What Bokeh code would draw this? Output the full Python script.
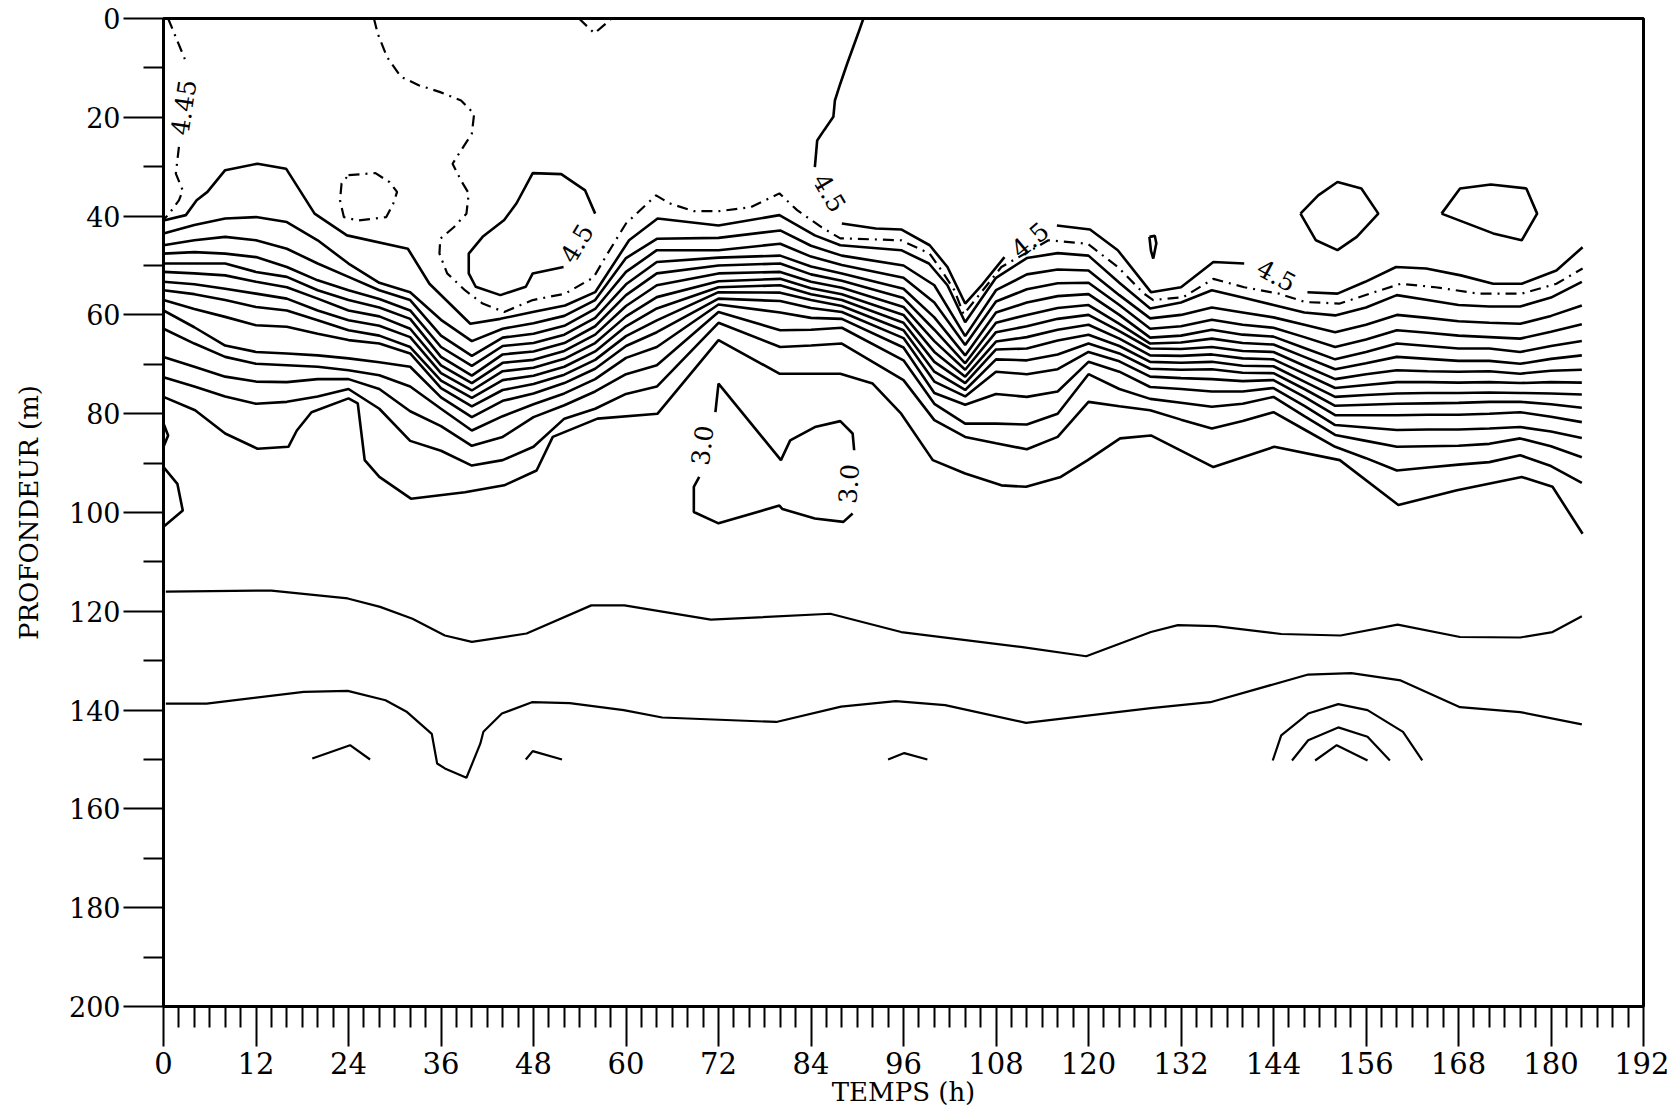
from bokeh.plotting import figure
from bokeh.models import Range1d, FixedTicker, ColumnDataSource
from bokeh.embed import file_html
from bokeh.resources import INLINE
from bokeh.core.properties import value

# ---------------- axes ----------------
x_major = list(range(0, 193, 12))
x_minor = [t for t in range(0, 193, 2) if t % 12 != 0]
y_major = list(range(0, 201, 20))
y_minor = list(range(10, 200, 20))

# ---------------- thermocline band (common time stations, depth in m) ----------------
band_t = [0, 4, 8, 12, 16, 20, 24, 28, 32, 36, 40, 44, 48, 52, 56, 60, 64, 72, 80, 84, 88, 96, 100,
          104, 108, 112, 116, 120, 124, 128, 132, 136, 140, 144, 148, 152, 156, 160, 164, 168, 172,
          176, 180, 184]
band_L02 = [43.5, 41.8, 40.5, 40.2, 41.2, 44.9, 49.6, 53.5, 55.4, 61.0, 65.3, 62.8, 61.7, 60.2, 57.0, 48.5, 44.6, 44.4, 42.9, 46.0, 48.0, 50.0, 54.0,
            64.3, 55.0, 51.8, 50.8, 51.0, 56.0, 60.7, 60.0, 58.5, 59.5, 60.5, 62.0, 63.5, 62.0, 60.0, 60.6, 61.3, 61.6, 61.8, 60.2, 58.1]
band_L03 = [45.9, 44.9, 44.2, 44.9, 46.6, 49.6, 52.3, 55.0, 57.0, 64.2, 68.3, 64.6, 63.8, 62.2, 58.8, 51.3, 46.9, 46.9, 45.6, 48.2, 49.9, 52.5, 57.5,
            66.1, 57.3, 54.8, 53.6, 53.5, 58.0, 62.8, 62.3, 61.0, 62.0, 62.6, 64.5, 66.5, 65.0, 63.1, 63.6, 64.2, 64.5, 64.8, 63.4, 61.9]
band_L04 = [47.6, 47.3, 47.6, 48.3, 50.3, 53.0, 55.0, 56.8, 59.1, 66.5, 70.3, 66.3, 65.7, 64.0, 60.6, 53.8, 49.3, 48.4, 48.0, 50.2, 51.6, 54.7, 60.5,
            68.2, 59.5, 57.5, 56.2, 55.8, 60.0, 64.6, 64.2, 63.0, 64.0, 64.4, 66.7, 69.0, 67.5, 65.8, 66.3, 66.8, 66.8, 67.5, 66.3, 65.3]
band_L05 = [49.6, 49.6, 49.6, 51.3, 52.3, 55.0, 57.0, 58.5, 60.8, 68.5, 72.3, 68.0, 67.4, 65.7, 62.3, 56.0, 51.6, 50.0, 49.6, 51.8, 53.1, 56.6, 63.0,
            69.8, 61.6, 60.0, 58.6, 58.0, 61.8, 65.8, 65.6, 64.8, 65.7, 66.0, 68.5, 71.0, 69.8, 68.5, 68.9, 69.3, 69.3, 69.9, 68.9, 68.2]
band_L06 = [51.3, 51.6, 52.0, 53.3, 54.4, 56.7, 59.1, 60.3, 62.8, 70.2, 73.8, 69.7, 69.1, 67.3, 64.0, 58.2, 54.0, 51.6, 51.3, 53.3, 54.5, 58.4, 65.3,
            71.1, 63.5, 62.3, 60.8, 60.0, 63.3, 66.8, 66.9, 66.5, 67.3, 67.5, 70.3, 73.0, 72.0, 71.2, 71.4, 71.5, 71.4, 71.9, 71.3, 71.1]
band_L07 = [53.3, 53.8, 54.7, 55.7, 56.7, 59.1, 61.1, 62.2, 64.5, 71.8, 75.3, 71.4, 70.7, 68.9, 65.7, 60.3, 56.4, 53.2, 52.7, 54.6, 55.8, 60.0, 67.5,
            72.5, 65.4, 64.5, 63.0, 62.0, 64.8, 68.2, 68.3, 68.0, 68.8, 69.0, 71.9, 74.8, 74.2, 73.6, 73.6, 73.7, 73.6, 73.8, 73.6, 73.7]
band_L08 = [55.0, 55.8, 57.0, 58.4, 59.1, 61.1, 63.1, 64.2, 66.5, 73.3, 76.8, 73.2, 72.3, 70.5, 67.4, 62.3, 58.7, 54.4, 54.0, 55.8, 57.0, 61.6, 69.5,
            73.8, 67.0, 66.8, 65.2, 64.0, 66.3, 69.5, 69.7, 69.5, 70.3, 70.4, 73.5, 76.6, 76.2, 75.9, 75.8, 75.8, 75.7, 75.8, 75.9, 76.1]
band_L09 = [57.0, 58.8, 60.4, 62.1, 62.4, 63.8, 65.1, 65.8, 67.8, 74.8, 78.5, 75.2, 74.0, 72.1, 69.1, 64.3, 61.1, 55.4, 55.5, 57.0, 58.2, 63.1, 71.5,
            75.2, 69.0, 69.2, 68.0, 65.8, 67.8, 70.9, 71.1, 71.0, 71.7, 71.8, 75.0, 78.4, 78.2, 78.0, 77.9, 77.8, 77.6, 77.6, 78.1, 78.8]
band_L10 = [59.1, 62.5, 66.2, 67.5, 67.8, 68.2, 68.8, 69.6, 70.5, 76.7, 80.7, 77.4, 75.9, 73.8, 70.9, 66.3, 63.5, 56.7, 57.2, 58.6, 59.4, 64.7, 73.5,
            76.5, 71.5, 72.0, 71.0, 67.5, 69.4, 72.5, 72.8, 73.0, 73.4, 73.2, 76.6, 80.3, 80.3, 80.3, 80.2, 80.2, 80.0, 79.7, 80.6, 81.7]
band_L11 = [62.8, 65.8, 68.5, 69.9, 70.2, 70.5, 71.2, 72.2, 74.5, 79.0, 83.4, 80.5, 78.1, 75.9, 73.0, 68.7, 66.5, 57.9, 59.5, 60.6, 60.8, 66.6, 75.8,
            78.2, 76.0, 76.6, 75.5, 69.5, 71.5, 74.6, 75.0, 75.5, 75.5, 74.8, 78.4, 82.3, 82.8, 83.3, 83.2, 83.2, 83.0, 82.7, 83.6, 84.9]
band_L12 = [68.5, 70.5, 72.5, 73.5, 73.6, 73.0, 73.0, 75.0, 79.5, 82.5, 86.5, 84.7, 80.7, 78.3, 75.5, 72.0, 70.2, 59.4, 63.1, 63.0, 62.6, 69.2, 78.0,
            82.0, 82.0, 82.2, 80.0, 72.0, 75.0, 77.0, 77.8, 78.6, 78.0, 76.6, 80.5, 84.3, 85.5, 86.7, 86.6, 86.5, 86.1, 85.0, 86.6, 88.8]
band_L13 = [72.6, 74.5, 76.5, 78.0, 77.6, 76.5, 75.0, 79.0, 85.5, 87.5, 90.5, 89.4, 86.7, 81.0, 79.0, 76.0, 74.5, 61.6, 66.5, 66.2, 65.8, 73.2, 81.3,
            84.7, 86.0, 87.2, 84.7, 77.6, 78.5, 79.3, 81.2, 83.0, 81.5, 79.7, 83.2, 86.7, 89.0, 91.5, 90.9, 90.3, 89.8, 88.4, 90.6, 94.0]

# ---------------- individually traced contours (time h, depth m) ----------------
top_t = [0, 2.9, 4.3, 5.7, 8.0, 12.2, 15.9, 19.6, 23.8, 31.7, 34.5, 39.8, 43.7, 47.9, 52.1, 56.0, 60.4, 64.1,
         72.0, 79.9, 84.5, 87.8, 95.7, 99.3, 101.7, 104.0, 108, 112, 116, 120, 124, 128, 132, 136, 140, 144,
         148, 152, 156, 160, 164, 168, 172, 176, 180, 184]
top_z = [40.9, 39.8, 36.8, 35.1, 30.7, 29.4, 30.4, 39.5, 43.9, 46.6, 53.7, 61.8, 60.8, 59.4, 58.1, 55.4, 44.9, 40.5,
         41.9, 39.8, 43.9, 45.9, 46.9, 49.6, 54.0, 61.5, 52.5, 48.5, 47.5, 48.0, 53.5, 58.7, 57.5, 55.0, 56.5, 58.0,
         59.5, 60.1, 58.5, 56.0, 57.0, 58.0, 58.3, 58.3, 56.5, 53.3]

low_t = [0, 4.1, 8.0, 12.2, 16.2, 17.3, 19.2, 24.0, 25.2, 26.1, 28.0, 32.1, 39.1, 44.2, 48.4, 50.5, 56.3, 64.1,
         72.0, 79.9, 87.8, 92.0, 95.7, 99.8, 104.0, 108.7, 111.9, 116.4, 119.9, 124.1, 128.1, 136.2, 144.1,
         152.6, 160.2, 167.8, 176.2, 180.2, 184.1]
low_z = [76.6, 79.3, 84.0, 87.1, 86.7, 83.4, 79.7, 76.9, 77.9, 89.4, 92.8, 97.2, 95.9, 94.5, 91.5, 84.7, 81.0, 80.0,
         65.1, 71.9, 71.9, 73.9, 80.0, 89.4, 92.1, 94.5, 94.8, 92.8, 89.4, 85.0, 84.4, 90.8, 86.7,
         89.4, 98.5, 95.5, 92.8, 94.8, 104.3]

# 4.45 contour (dash-dot)
dd_corner_a_t = [0.6, 3.0]
dd_corner_a_z = [0.0, 9.1]
dd_corner_b_t = [2.0, 1.6, 2.5, 2.0, 0.6, 0.1]
dd_corner_b_z = [26.0, 31.4, 34.8, 36.8, 39.8, 40.5]
dd_main_t = [27.3, 27.8, 29.0, 30.8, 33.1, 35.9, 38.6, 40.3, 40.0, 38.6, 37.5, 38.6, 39.6, 39.3, 37.7, 35.9, 35.8,
             36.8, 39.1, 41.4, 44.2, 47.9, 52.1, 55.8, 57.6, 60.0, 63.9, 65.6, 68.8, 72.1, 76.2, 79.9, 82.2, 85.4,
             87.8, 95.7, 99.4, 101.2, 102.6, 103.8, 108.7, 114.8, 119.9, 123.8, 127.2, 128.4, 132.3, 136.2, 140.2,
             144.7, 148.1, 152.6, 156.5, 160.5, 165.0, 170.6, 176.2, 180.7, 184.1]
dd_main_z = [0.0, 3.1, 7.8, 11.8, 13.5, 14.9, 16.6, 19.3, 23.3, 26.7, 29.4, 32.8, 35.4, 39.5, 42.2, 44.6, 47.6,
             51.6, 55.0, 57.7, 59.4, 57.0, 55.7, 52.4, 47.6, 41.5, 35.8, 37.4, 39.0, 39.0, 38.2, 35.4, 38.8, 42.3,
             44.5, 44.9, 47.6, 51.6, 55.0, 59.9, 50.3, 44.9, 45.6, 50.3, 55.7, 57.0, 56.4, 52.7, 54.4,
             55.7, 57.4, 57.7, 55.7, 53.7, 54.4, 55.7, 55.7, 53.7, 50.6]
dd_loop_t = [24.0, 27.5, 29.3, 30.3, 29.8, 28.9, 25.2, 23.4, 22.9, 23.1, 24.0]
dd_loop_z = [31.7, 31.3, 33.1, 35.1, 37.5, 40.2, 40.9, 40.2, 36.8, 33.4, 31.7]
dd_top_t = [53.9, 55.9, 58.0]
dd_top_z = [0.0, 3.0, 0.2]

# 4.5 contour (solid)
c45_a_t = [90.8, 90.1, 88.7, 87.8, 87.1, 86.9, 85.7, 84.8, 84.5]
c45_a_z = [0.0, 3.1, 9.1, 13.2, 16.6, 19.9, 22.6, 24.7, 30.1]
c45_b_t = [88.0, 92.4, 95.7, 99.4, 101.7, 104.0, 106.3, 109.1]
c45_b_z = [41.5, 42.5, 42.7, 45.9, 50.3, 57.7, 53.7, 48.3]
c45_c_t = [115.9, 120.2, 123.8, 128.1, 132.0, 136.2, 140.2]
c45_c_z = [41.9, 42.7, 46.9, 55.4, 54.4, 49.3, 49.6]
c45_d_t = [148.4, 152.3, 155.9, 159.9, 163.8, 168.3, 172.5, 176.2, 180.7, 184.1]
c45_d_z = [55.4, 55.7, 53.3, 50.3, 50.6, 52.0, 53.7, 53.7, 51.0, 46.3]
c45_loop_t = [51.9, 47.9, 47.0, 43.7, 40.5, 39.6, 39.6, 41.4, 44.2, 45.8, 47.9, 51.6, 54.7, 56.0]
c45_loop_z = [50.3, 51.6, 54.3, 56.0, 54.3, 51.6, 47.6, 44.2, 40.8, 37.4, 31.3, 31.5, 34.8, 39.5]
sliver_t = [127.9, 128.6, 128.8, 128.4, 128.1, 127.9]
sliver_z = [44.2, 44.0, 45.5, 48.6, 47.0, 44.2]
blob1_t = [147.5, 149.8, 152.3, 155.4, 157.6, 154.8, 152.3, 149.5, 147.5]
blob1_z = [39.5, 35.8, 33.1, 34.4, 39.5, 44.2, 46.9, 44.9, 39.5]
blob2_t = [165.8, 168.2, 172.2, 176.8, 178.2, 176.2, 172.5, 165.8]
blob2_z = [39.5, 34.4, 33.6, 34.4, 39.5, 44.9, 43.5, 39.5]

# 3.0 closed contour (two pieces split by labels)
c30_a_t = [71.6, 72.0, 80.1, 81.3, 84.5, 87.8, 89.4, 89.6]
c30_a_z = [79.7, 73.9, 89.4, 85.4, 82.7, 81.5, 84.0, 87.4]
c30_b_t = [89.4, 88.2, 84.5, 80.3, 79.9, 72.0, 68.8, 68.8, 69.5]
c30_b_z = [100.2, 101.9, 101.2, 99.3, 98.6, 102.2, 99.9, 94.8, 92.8]

# small contours touching the left edge
edge_bump_t = [0.0, 0.6, 0.0]
edge_bump_z = [82.0, 84.4, 86.7]
edge_wedge_t = [0.0, 1.8, 2.5, 0.0]
edge_wedge_z = [90.8, 94.2, 99.6, 102.9]

# deep contours
deep1_t = [0.3, 14.0, 23.9, 28.1, 32.3, 36.5, 40.0, 47.1, 55.5, 59.8, 71.0, 86.5, 95.7, 111.2, 119.7, 128.1,
           131.6, 136.5, 145.0, 152.7, 160.1, 168.2, 176.0, 180.2, 184.0]
deep1_z = [116.0, 115.8, 117.4, 119.1, 121.5, 124.9, 126.2, 124.5, 118.8, 118.8, 121.7, 120.5, 124.2, 127.2, 129.1,
           124.2, 122.8, 123.0, 124.6, 124.9, 122.7, 125.2, 125.3, 124.2, 121.0]
deep2_t = [0.3, 5.6, 18.2, 23.9, 28.8, 31.6, 34.8, 35.5, 36.5, 39.3, 41.1, 41.5, 43.9, 47.8, 52.7, 59.7, 64.7,
           79.5, 87.9, 95.0, 101.4, 111.9, 128.1, 135.8, 148.5, 154.1, 160.5, 168.2, 176.0, 184.0]
deep2_z = [138.7, 138.7, 136.3, 136.1, 138.0, 140.4, 144.8, 150.8, 151.8, 153.7, 146.8, 144.4, 140.7, 138.4,
           138.6, 140.0, 141.5, 142.4, 139.3, 138.2, 139.0, 142.6, 139.6, 138.4, 132.8, 132.5, 134.0, 139.4,
           140.4, 142.9]
cap1_t = [19.3, 24.2, 26.8]
cap1_z = [149.8, 147.1, 150.0]
cap2_t = [47.0, 47.9, 51.7]
cap2_z = [150.0, 148.3, 150.0]
cap3_t = [94.0, 96.1, 99.1]
cap3_z = [150.0, 148.7, 150.0]
arch_outer_t = [143.9, 145.0, 148.5, 152.4, 156.2, 160.8, 163.3]
arch_outer_z = [150.2, 145.1, 140.7, 138.8, 140.0, 144.4, 150.2]
arch_mid_t = [146.4, 148.5, 152.4, 156.2, 159.1]
arch_mid_z = [150.2, 146.1, 143.5, 145.4, 150.2]
arch_in_t = [149.4, 152.2, 156.2]
arch_in_z = [150.2, 147.1, 150.2]

# contour labels
lab_text = ["4.45", "4.5", "4.5", "4.5", "4.5", "3.0", "3.0"]
lab_t = [2.6, 53.6, 86.4, 112.4, 144.4, 69.9, 88.9]
lab_z = [18.0, 45.5, 35.3, 44.8, 52.0, 86.4, 94.2]
lab_angle = [1.42, 1.03, -1.04, 0.70, -0.50, 1.45, 1.50]

# ---------------- figure ----------------
FONT = "DejaVu Serif"
p = figure(frame_width=1480, frame_height=988, output_backend="svg", toolbar_location=None,
           x_range=Range1d(0, 192), y_range=Range1d(200, 0),
           min_border_left=163, min_border_top=18, min_border_right=26, min_border_bottom=10,
           background_fill_color="white", border_fill_color="white")
p.grid.visible = False
p.outline_line_color = "black"
p.outline_line_width = 3

p.xaxis.ticker = FixedTicker(ticks=x_major, minor_ticks=x_minor)
p.yaxis.ticker = FixedTicker(ticks=y_major, minor_ticks=y_minor)
for ax in (p.xaxis[0], p.yaxis[0]):
    ax.axis_line_width = 3
    ax.axis_line_color = "black"
    ax.major_tick_in = 0
    ax.minor_tick_in = 0
    ax.major_tick_line_width = 2
    ax.minor_tick_line_width = 2
    ax.major_tick_line_color = "black"
    ax.minor_tick_line_color = "black"
    ax.major_label_text_font = FONT
    ax.major_label_text_color = "black"
    ax.axis_label_text_font = FONT
    ax.axis_label_text_font_style = "normal"
    ax.axis_label_text_color = "black"
    ax.axis_label_text_font_size = "26px"

p.xaxis.major_tick_out = 40
p.xaxis.minor_tick_out = 21
p.xaxis.major_label_text_font_size = "29px"
p.xaxis.major_label_standoff = 5
p.xaxis.axis_label = "TEMPS (h)"
p.xaxis.axis_label_standoff = 0

p.yaxis.major_tick_out = 40
p.yaxis.minor_tick_out = 20
p.yaxis.major_label_text_font_size = "27px"
p.yaxis.major_label_standoff = 3
p.yaxis.axis_label = "PROFONDEUR (m)"
p.yaxis.axis_label_standoff = 22

LW = 2.6
band_rows = [band_L02, band_L03, band_L04, band_L05, band_L06, band_L07, band_L08,
             band_L09, band_L10, band_L11, band_L12, band_L13]
for row in band_rows:
    p.line(band_t, row, line_color="black", line_width=LW)
p.line(top_t, top_z, line_color="black", line_width=LW)
p.line(low_t, low_z, line_color="black", line_width=LW)

dash = "11 6 2 6"
for xs, ys in [(dd_corner_a_t, dd_corner_a_z), (dd_corner_b_t, dd_corner_b_z),
               (dd_main_t, dd_main_z), (dd_loop_t, dd_loop_z), (dd_top_t, dd_top_z)]:
    p.line(xs, ys, line_color="black", line_width=2.2, line_dash=dash)

for xs, ys in [(c45_a_t, c45_a_z), (c45_b_t, c45_b_z), (c45_c_t, c45_c_z), (c45_d_t, c45_d_z),
               (c45_loop_t, c45_loop_z), (sliver_t, sliver_z), (blob1_t, blob1_z), (blob2_t, blob2_z),
               (c30_a_t, c30_a_z), (c30_b_t, c30_b_z), (edge_bump_t, edge_bump_z),
               (edge_wedge_t, edge_wedge_z)]:
    p.line(xs, ys, line_color="black", line_width=LW)

for xs, ys in [(deep1_t, deep1_z), (deep2_t, deep2_z), (cap1_t, cap1_z), (cap2_t, cap2_z),
               (cap3_t, cap3_z), (arch_outer_t, arch_outer_z), (arch_mid_t, arch_mid_z),
               (arch_in_t, arch_in_z)]:
    p.line(xs, ys, line_color="black", line_width=2.2)

src = ColumnDataSource(dict(x=lab_t, y=lab_z, text=lab_text, angle=lab_angle))
p.text(x="x", y="y", text="text", angle="angle", source=src, text_font=value(FONT),
       text_font_size="25px", text_align="center", text_baseline="middle", text_color="black")

open("out.html", "w").write(file_html(p, INLINE))
